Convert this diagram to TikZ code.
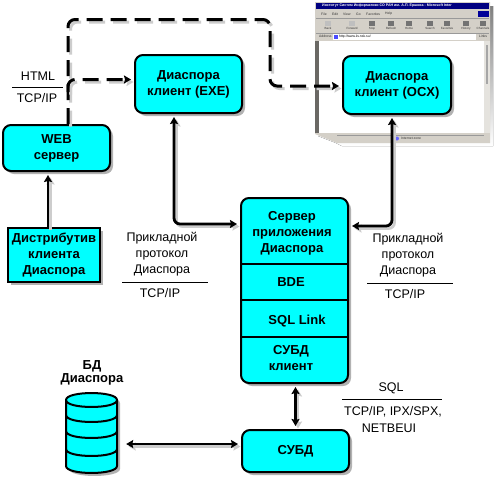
\documentclass[tikz,border=0pt]{standalone}
\usepackage{fontspec}
\setmainfont{Liberation Sans}
\usetikzlibrary{arrows.meta,shadows,positioning}
\definecolor{cy}{RGB}{0,255,255}
\definecolor{shade}{RGB}{205,205,205}
\definecolor{wingray}{RGB}{212,208,200}
\newcommand\wdraw[2]{%
  \begin{scope}[transform canvas={shift={(2.5pt,-2.5pt)}}]\draw[#1,draw=shade,fill=none] #2;\end{scope}%
  \draw[#1] #2;}
\tikzset{
  boxbase/.style={draw=black,line width=2pt,fill=cy,align=center,font=\bfseries\fontsize{13}{16}\selectfont,inner sep=0pt,
     drop shadow={shadow xshift=3pt,shadow yshift=-3pt,opacity=.3,fill=black}},
  rbox/.style={boxbase,rounded corners=8pt},
  sbox/.style={boxbase},
  wire/.style={line width=2.8pt,rounded corners=6pt},
  dwire/.style={line width=3pt,rounded corners=7pt,dash pattern=on 16pt off 8pt},
  tip/.style={-{Stealth[length=7pt,width=8pt,inset=1pt]},shorten >=3pt},
  dtip/.style={{Stealth[length=7pt,width=8pt,inset=1pt]}-{Stealth[length=7pt,width=8pt,inset=1pt]},shorten >=3pt,shorten <=3pt},
  lab/.style={font=\fontsize{12.5}{16}\selectfont,inner sep=0pt,align=center},
  rulel/.style={line width=.8pt},
  btxt/.style={font=\bfseries\fontsize{13}{16}\selectfont,inner sep=0pt,align=center},
  menu/.style={font=\fontsize{3.4}{4}\selectfont,inner sep=0pt,text=black!80},
}
\begin{document}
\begin{tikzpicture}[x=1pt,y=-1pt]
\useasboundingbox (0,0) rectangle (500,482);
\fill[white] (0,0) rectangle (500,482);
% browser window (screenshot)
\fill[shade] (318,6) -- (493,6) -- (493,146) -- (342,146) -- (336,143) -- (318,136) -- cycle;
\fill[wingray] (315,2) -- (490,2) -- (490,143) -- (337,143) -- (315,134) -- cycle;
\fill[white] (319,41) rectangle (484,133);
\fill[black!50!wingray] (315,41) rectangle (319,133);
\fill[white!40!wingray] (484,41) rectangle (490,133);
\fill[black!35] (486,45) rectangle (488,84);
\fill[blue!50!black] (316,3) rectangle (489,9);
\node[inner sep=0pt,anchor=west,font=\bfseries\fontsize{3.6}{4}\selectfont,text=white] (title) at (322,6) {Институт Систем Информатики СО РАН им. А.П. Ершова - Microsoft Inter};
\node[menu,anchor=west] (m1) at (321,14) {File};
\node[menu,anchor=west] (m2) at (332,14) {Edit};
\node[menu,anchor=west] (m3) at (343,14) {View};
\node[menu,anchor=west] (m4) at (356,14) {Go};
\node[menu,anchor=west] (m5) at (366,14) {Favorites};
\node[menu,anchor=west] (m6) at (385,14) {Help};
\fill[blue!60!black] (478,11) rectangle (489,17);
\draw[black!40,line width=.4pt] (316,18) -- (489,18) (316,33.5) -- (489,33.5);
\foreach \x/\t/\c in {328/Back/25,352/Forward/25,372/Stop/55,391/Refresh/55,409/Home/55,430/Search/55,447/Favorites/55,466/History/55,483/Channels/55}{
  \fill[black!\c] (\x-3,20.5) rectangle (\x+3,26);
  \node[menu,font=\fontsize{3}{4}\selectfont] at (\x,28.5) {\t};
}
\node[menu,anchor=west] (addr) at (319,36.5) {Address};
\fill[white] (333,34) rectangle (476,39.5);
\node[menu,anchor=west,text=black] (url) at (339,36.8) {http://www.iis.nsk.su/};
\fill[blue!70!white] (334,34.5) rectangle (338,39);
\node[menu,anchor=west] (lnk) at (479,36.5) {Links};
\draw[black!40,line width=.4pt] (337,135) -- (484,135);
\fill[blue!60!white] (397,138.5) circle (2pt);
\node[menu,anchor=west] (zone) at (401,138.5) {Internet zone};
% boxes
\node[rbox,minimum width=107pt,minimum height=58pt] (exe) at (188.5,84) {Диаспора\\клиент (EXE)};
\node[rbox,minimum width=107pt,minimum height=46pt] (web) at (56.5,148) {WEB\\сервер};
\node[sbox,minimum width=92pt,minimum height=54pt] (dist) at (54,255) {Дистрибутив\\клиента\\Диаспора};
\node[rbox,minimum width=108pt,minimum height=58pt] (ocx) at (397,85) {Диаспора\hspace{10pt}\\клиент (OCX)};
\node[rbox,minimum width=107pt,minimum height=185pt] (srv) at (294.5,290.5) {};
\node[rbox,minimum width=107pt,minimum height=42pt] (subd) at (295.5,451) {СУБД};
% server sections
\draw[line width=2pt] (srv.west |- 0,264) -- (srv.east |- 0,264);
\draw[line width=2pt] (srv.west |- 0,300) -- (srv.east |- 0,300);
\draw[line width=2pt] (srv.west |- 0,337) -- (srv.east |- 0,337);
\node[btxt] (s1) at (292,233) {Сервер\\приложения\\Диаспора};
\node[btxt] (s2) at (291,282) {BDE};
\node[btxt] (s3) at (297,321) {SQL Link};
\node[btxt] (s4) at (291,358.5) {СУБД\\клиент};
% database cylinder
\node[minimum width=51pt,minimum height=80pt,inner sep=0pt] (db) at (91.5,433) {};
\fill[black,opacity=.3] (69,403) -- (69,469) .. controls (69,478.3) and (120,478.3) .. (120,469) -- (120,403) .. controls (120,394) and (69,394) .. (69,403) -- cycle;
\draw[line width=2pt,fill=cy] (66,400) -- (66,466) .. controls (66,475.3) and (117,475.3) .. (117,466) -- (117,400) .. controls (117,390.7) and (66,390.7) .. (66,400) -- cycle;
\draw[line width=2pt] (66,400) .. controls (66,409.3) and (117,409.3) .. (117,400);
\draw[line width=2pt] (66,415) .. controls (66,424.3) and (117,424.3) .. (117,415);
\draw[line width=2pt] (66,431) .. controls (66,440.3) and (117,440.3) .. (117,431);
\draw[line width=2pt] (66,449) .. controls (66,458.3) and (117,458.3) .. (117,449);
\node[btxt] (dbt) at (92,373) {БД\\[-3pt]Диаспора};
% labels
\node[lab] (h1) at (38,76) {HTML};
\draw[rulel] (12,87) -- (63,87);
\node[lab] (h2) at (37,98) {TCP/IP};
\node[lab] (p1) at (162,254.5) {Прикладной\\протокол\\Диаспора};
\draw[rulel] (122,282) -- (208,282);
\node[lab] (p2) at (160,293) {TCP/IP};
\node[lab] (q1) at (408,255.5) {Прикладной\\протокол\\Диаспора};
\draw[rulel] (367,283) -- (453,283);
\node[lab] (q2) at (405,294) {TCP/IP};
\node[lab] (r1) at (391,388) {SQL};
\draw[rulel] (342,399) -- (442,399);
\node[lab] (r2) at (393,412) {TCP/IP, IPX/SPX,};
\node[lab] (r3) at (389,428) {NETBEUI};
% connectors
\coordinate (dA) at (68,19.5);
\coordinate (dB) at (270,19.5);
\coordinate (dC) at (270,86);
\coordinate (dD) at (68,92);
\coordinate (dE) at (68,79.5);
\wdraw{dwire,tip}{(web.north -| dA) -- (dA) -- (dB) -- (dC) -- (ocx.west |- dC)}
\wdraw{dwire,tip}{(dD) -- (dE) -- (exe.west |- dE)}
\coordinate (wC) at (48,200);
\wdraw{wire,tip}{(dist.north -| wC) -- (web.south -| wC)}
\coordinate (eC) at (174,224);
\wdraw{wire,dtip}{(exe.south -| eC) -- (eC) -- (srv.west |- eC)}
\coordinate (oC) at (392,226);
\wdraw{wire,dtip}{(ocx.south -| oC) -- (oC) -- (srv.east |- oC)}
\coordinate (sC) at (295.5,400);
\wdraw{wire,dtip}{(srv.south -| sC) -- (subd.north -| sC)}
\coordinate (bC) at (100,444);
\wdraw{wire,dtip,shorten <=9pt}{(db.east |- bC) -- (subd.west |- bC)}
\end{tikzpicture}
\end{document}
